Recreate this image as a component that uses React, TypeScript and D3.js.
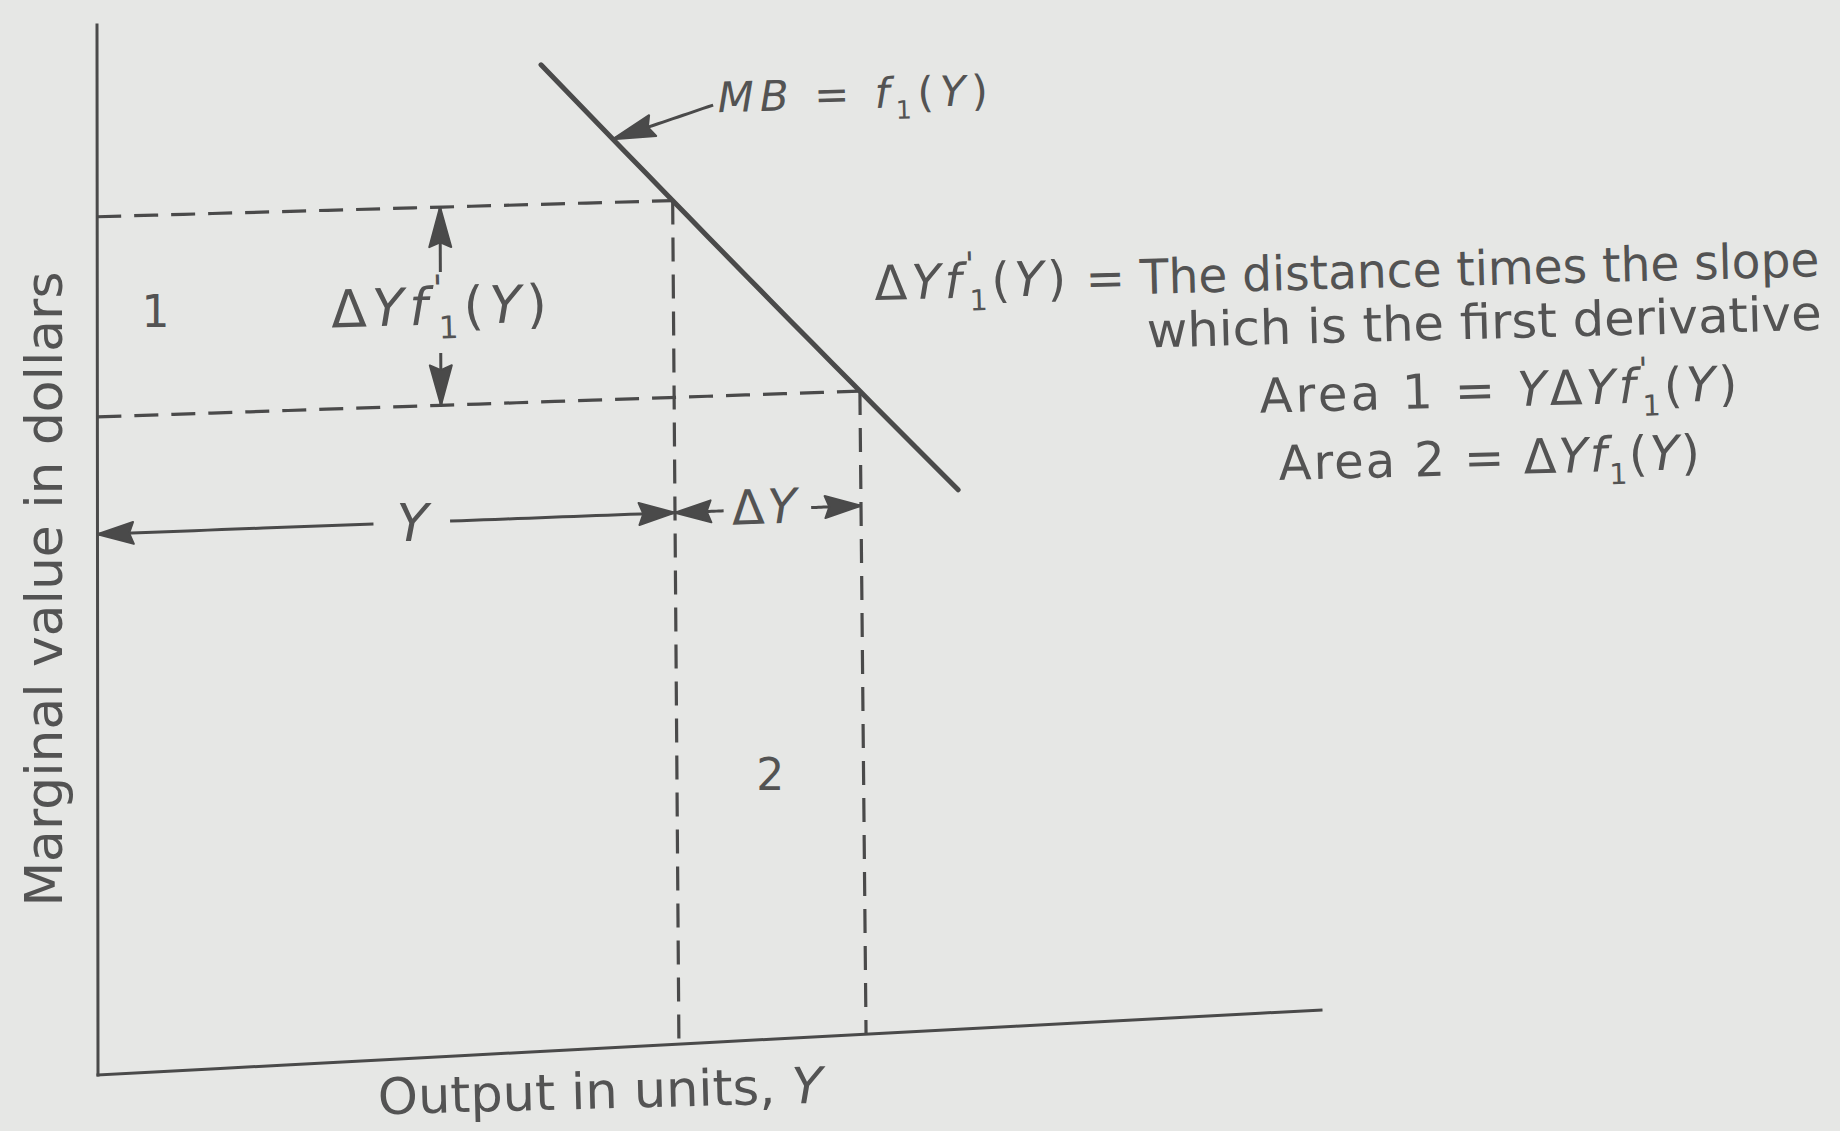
import React from "react";
import * as d3 from "d3";

const W = 1840;
const H = 1131;

// Abstract units: output along the horizontal axis, marginal value in dollars up the vertical one
const outputMax = 10;
const valueMax = 10;

// Marginal benefit schedule MB = f1(Y), a straight falling line
const mbCurve: [number, number][] = [
  [3.67, 9.52],
  [7.08, 5.27],
];

// Current output Y and the increment ΔY
const outputY = 4.75;
const deltaY = 1.53;

// Dimension arrows
const arrowLevel = 5.15; // value level of the Y / ΔY arrows
const yArrowGap: [number, number] = [2.27, 2.9];
const dyArrowGap: [number, number] = [5.15, 5.87];
const slopeArrowAt = 2.83;
const slopeArrowGap: [number, number] = [7.55, 6.77];
const mbPointerTail: [number, number] = [5.09, 9.09];
const mbPointerAt = 4.26;

// Sheet corners (slightly keystoned page)
const frame = {
  p00: [98, 1075],
  p10: [1321, 1010],
  p01: [97, 25],
  p11: [1306, -2],
};

const INK = "#4a4a4a";
const TEXT = "#535353";
const PAPER = "#e6e7e5";
const FONT = "'DejaVu Sans', 'Liberation Sans', sans-serif";

type Tok =
  | { t: string; i?: boolean }
  | { sub: string }
  | { primeSub: string };

const up = (t: string): Tok => ({ t });
const it = (t: string): Tok => ({ t, i: true });
const sub = (s: string): Tok => ({ sub: s });
const primeSub = (s: string): Tok => ({ primeSub: s });

// Label texts
const slopeTerm: Tok[] = [up("Δ"), it("Y"), it("f"), primeSub("1"), up("("), it("Y"), up(")")];
const levelTerm: Tok[] = [up("Δ"), it("Y"), it("f"), sub("1"), up("("), it("Y"), up(")")];
const mbLabel: Tok[] = [it("MB"), up(" = "), it("f"), sub("1"), up("("), it("Y"), up(")")];
const area1Label: Tok[] = [up("Area 1 = "), it("Y"), ...slopeTerm];
const area2Label: Tok[] = [up("Area 2 = "), ...levelTerm];
const yLabel: Tok[] = [it("Y")];
const dyLabel: Tok[] = [up("Δ"), it("Y")];
const distanceText = "= The distance times the slope";
const derivativeText = "which is the first derivative";
const xTitle: Tok[] = [up("Output in units, "), it("Y")];
const yTitle = "Marginal value in dollars";

function spans(tokens: Tok[], F: number) {
  const out: React.ReactNode[] = [];
  let pending = 0;
  tokens.forEach((tk, k) => {
    if ("t" in tk) {
      out.push(
        <tspan key={k} dy={pending} fontStyle={tk.i ? "italic" : "normal"}>
          {tk.t}
        </tspan>
      );
      pending = 0;
    } else if ("sub" in tk) {
      out.push(
        <tspan key={k} dy={pending + 0.27 * F} fontSize={0.6 * F}>
          {tk.sub}
        </tspan>
      );
      pending = -0.27 * F;
    } else {
      out.push(
        <tspan key={k + "p"} dy={pending - 0.45 * F} fontSize={0.7 * F}>
          {"'"}
        </tspan>
      );
      out.push(
        <tspan key={k + "s"} dx={-0.2 * F} dy={0.72 * F} fontSize={0.6 * F}>
          {tk.primeSub}
        </tspan>
      );
      pending = -0.27 * F;
    }
  });
  return out;
}

export default function App() {
  const sx = d3.scaleLinear().domain([0, outputMax]).range([0, 1]);
  const sy = d3.scaleLinear().domain([0, valueMax]).range([0, 1]);
  const mb = d3
    .scaleLinear()
    .domain(mbCurve.map((d) => d[0]))
    .range(mbCurve.map((d) => d[1]));

  const project = (u: number, v: number): [number, number] => {
    const s = sx(u);
    const t = sy(v);
    const { p00, p10, p01, p11 } = frame;
    const w00 = (1 - s) * (1 - t);
    const w10 = s * (1 - t);
    const w01 = (1 - s) * t;
    const w11 = s * t;
    return [
      w00 * p00[0] + w10 * p10[0] + w01 * p01[0] + w11 * p11[0],
      w00 * p00[1] + w10 * p10[1] + w01 * p01[1] + w11 * p11[1],
    ];
  };

  const line = d3
    .line<[number, number]>()
    .x((d) => d[0])
    .y((d) => d[1]);
  const seg = (u1: number, v1: number, u2: number, v2: number) =>
    line(
      d3.range(0, 21).map((i) => {
        const k = i / 20;
        return project(u1 + (u2 - u1) * k, v1 + (v2 - v1) * k);
      })
    ) as string;

  // filled dart-shaped arrowhead with its tip at (u,v), pointing away from (fu,fv)
  const head = (u: number, v: number, fu: number, fv: number, len = 36, hw = 11) => {
    const tip = project(u, v);
    const from = project(fu, fv);
    const dx = tip[0] - from[0];
    const dy = tip[1] - from[1];
    const n = Math.hypot(dx, dy);
    const ux = dx / n;
    const uy = dy / n;
    const px = -uy;
    const py = ux;
    const bx = tip[0] - ux * len;
    const by = tip[1] - uy * len;
    const nx = tip[0] - ux * len * 0.88;
    const ny = tip[1] - uy * len * 0.88;
    return `M${tip[0]},${tip[1]}L${bx + px * hw},${by + py * hw}L${nx},${ny}L${bx - px * hw},${by - py * hw}Z`;
  };

  const fY = mb(outputY);
  const fY2 = mb(outputY + deltaY);
  const y2 = outputY + deltaY;

  const label = (
    key: string,
    u: number,
    v: number,
    tokens: Tok[],
    F: number,
    opts: { tilt?: number; anchor?: string; ls?: number; len?: number } = {}
  ) => {
    const [x, y] = project(u, v);
    return (
      <text
        key={key}
        transform={`translate(${x},${y}) rotate(${opts.tilt ?? -1.5})`}
        fontSize={F}
        fontFamily={FONT}
        fill={TEXT}
        textAnchor={opts.anchor ?? "start"}
        letterSpacing={opts.ls ?? 0}
        textLength={opts.len}
        lengthAdjust={opts.len ? "spacingAndGlyphs" : undefined}
      >
        {spans(tokens, F)}
      </text>
    );
  };

  const plain = (u: number, v: number, text: string, F: number, len: number, tilt: number) => {
    const [x, y] = project(u, v);
    return (
      <text
        transform={`translate(${x},${y}) rotate(${tilt})`}
        fontSize={F}
        fontFamily={FONT}
        fill={TEXT}
        textLength={len}
        lengthAdjust="spacingAndGlyphs"
      >
        {text}
      </text>
    );
  };

  return (
    <div style={{ position: "absolute", left: 0, top: 0, width: W, height: H }}>
      <svg width={W} height={H} viewBox={`0 0 ${W} ${H}`} style={{ display: "block" }}>
        <rect x={0} y={0} width={W} height={H} fill={PAPER} />

        {/* axes */}
        <g stroke={INK} strokeWidth={3} fill="none" strokeLinecap="square">
          <path d={seg(0, 0, 0, valueMax)} />
          <path d={seg(0, 0, outputMax, 0)} />
        </g>

        {/* dashed guides */}
        <g stroke={INK} strokeWidth={3.2} fill="none" strokeDasharray="24 13">
          <path d={seg(0, fY, outputY, fY)} />
          <path d={seg(0, fY2, y2, fY2)} />
          <path d={seg(outputY, fY, outputY, 0)} />
          <path d={seg(y2, fY2, y2, 0)} />
        </g>

        {/* MB schedule */}
        <path
          d={seg(mbCurve[0][0], mbCurve[0][1], mbCurve[1][0], mbCurve[1][1])}
          stroke={INK}
          strokeWidth={5}
          fill="none"
          strokeLinecap="round"
        />

        {/* dimension arrows */}
        <g stroke={INK} strokeWidth={3} fill="none">
          <path d={seg(0, arrowLevel, yArrowGap[0], arrowLevel)} />
          <path d={seg(yArrowGap[1], arrowLevel, outputY, arrowLevel)} />
          <path d={seg(outputY, arrowLevel, dyArrowGap[0], arrowLevel)} />
          <path d={seg(dyArrowGap[1], arrowLevel, y2, arrowLevel)} />
          <path d={seg(slopeArrowAt, slopeArrowGap[0], slopeArrowAt, fY)} />
          <path d={seg(slopeArrowAt, slopeArrowGap[1], slopeArrowAt, fY2)} />
          <path d={seg(mbPointerTail[0], mbPointerTail[1], mbPointerAt, mb(mbPointerAt))} />
        </g>
        <g fill={INK} stroke={INK} strokeWidth={2} strokeLinejoin="round">
          <path d={head(0, arrowLevel, 1, arrowLevel)} />
          <path d={head(outputY, arrowLevel, outputY - 1, arrowLevel)} />
          <path d={head(outputY, arrowLevel, outputY + 1, arrowLevel)} />
          <path d={head(y2, arrowLevel, y2 - 1, arrowLevel)} />
          <path d={head(slopeArrowAt, fY, slopeArrowAt, fY - 1, 40, 11)} />
          <path d={head(slopeArrowAt, fY2, slopeArrowAt, fY2 + 1, 40, 11)} />
          <path d={head(mbPointerAt, mb(mbPointerAt), mbPointerTail[0], mbPointerTail[1], 42, 11)} />
        </g>

        {/* labels */}
        {label("mb", 5.13, 9.02, mbLabel, 42, { ls: 6 })}
        {label("one", 0.48, 7.11, [up("1")], 44, { anchor: "middle", tilt: 0 })}
        {label("two", outputY + deltaY / 2, 2.42, [up("2")], 44, { anchor: "middle", tilt: 0 })}
        {label("slope", 1.93, 7.05, slopeTerm, 52, { ls: 5.5 })}
        {label("y", 2.59, 4.97, yLabel, 52, { anchor: "middle", tilt: 0 })}
        {label("dy", 5.5, 5.01, dyLabel, 48, { anchor: "middle", tilt: -2, ls: 3 })}

        {label("l1a", 6.41, 7.15, slopeTerm, 48, { ls: 4 })}
        {plain(8.15, 7.13, distanceText, 48, 734, -1.5)}
        {plain(8.65, 6.6, derivativeText, 48, 675, -1.5)}
        {label("l3", 9.57, 5.92, area1Label, 48, { ls: 3.4 })}
        {label("l4", 9.72, 5.25, area2Label, 48, { ls: 2 })}

        {/* axis titles */}
        {label("xt", 2.29, -0.52, xTitle, 50, { len: 445 })}
        {(() => {
          const [x, y] = project(-0.29, 1.62);
          return (
            <text
              transform={`translate(${x},${y}) rotate(-90)`}
              fontSize={52}
              fontFamily={FONT}
              fill={TEXT}
              textLength={635}
              lengthAdjust="spacingAndGlyphs"
            >
              {yTitle}
            </text>
          );
        })()}
      </svg>
    </div>
  );
}
